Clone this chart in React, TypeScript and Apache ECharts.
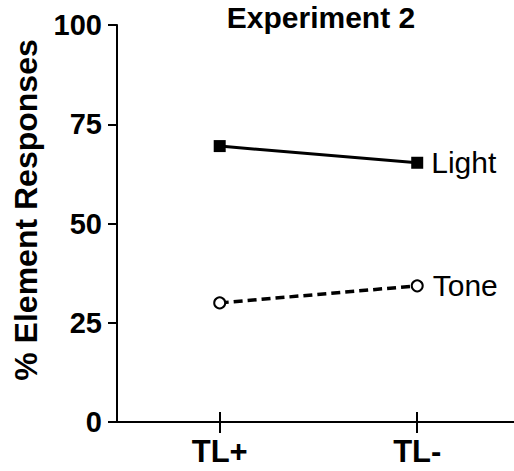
import React, { useEffect, useRef } from "react";
import * as echarts from "echarts";

const categories = ["TL+", "TL-"];
const lightValues = [69.5, 65.3];
const toneValues = [30.0, 34.3];
const yTickValues = [0, 25, 50, 75, 100];
const titleText = "Experiment 2";
const yAxisName = "% Element Responses";
const seriesNames = ["Light", "Tone"];

const FONT = "'Liberation Sans', Arial, Helvetica, sans-serif";

export default function App() {
  const ref = useRef<HTMLDivElement>(null);
  useEffect(() => {
    if (!ref.current) return;
    const chart = echarts.init(ref.current, null, { renderer: "svg" });
    const catIdx = categories.map((_, i) => i);
    const xCommon = {
      type: "value",
      min: -0.52,
      max: 1.49,
      splitLine: { show: false },
      axisLine: { show: false },
    };
    const option = {
      animation: false,
      backgroundColor: "#fff",
      grid: { left: 117, right: 0, top: 25, bottom: 49, containLabel: false },
      graphic: [
        {
          type: "text",
          x: 321,
          y: 17,
          style: {
            text: titleText,
            font: `bold 30px ${FONT}`,
            fill: "#000",
            align: "center",
            verticalAlign: "middle",
          },
        },
        {
          type: "text",
          x: 26,
          y: 210,
          rotation: Math.PI / 2,
          style: {
            text: yAxisName,
            font: `bold 32px ${FONT}`,
            fill: "#000",
            align: "center",
            verticalAlign: "middle",
          },
        },
      ],
      xAxis: [
        {
          ...xCommon,
          position: "bottom",
          axisLine: { show: true, onZero: false, lineStyle: { color: "#000", width: 2 } },
          axisTick: {
            show: true,
            inside: false,
            length: 11,
            customValues: catIdx,
            lineStyle: { color: "#000", width: 2 },
          },
          axisLabel: {
            show: true,
            customValues: catIdx,
            margin: 14,
            formatter: (v: number) => categories[Math.round(v)] ?? "",
            color: "#000",
            fontFamily: FONT,
            fontWeight: "bold",
            fontSize: 31,
          },
        },
        {
          ...xCommon,
          position: "bottom",
          axisTick: {
            show: true,
            inside: true,
            length: 10,
            customValues: catIdx,
            lineStyle: { color: "#000", width: 2 },
          },
          axisLabel: { show: false },
        },
      ],
      yAxis: {
        type: "value",
        min: 0,
        max: 100,
        interval: 25,
        splitLine: { show: false },
        axisLine: { show: true, onZero: false, lineStyle: { color: "#000", width: 2 } },
        axisTick: { show: true, length: 9, lineStyle: { color: "#000", width: 2 } },
        axisLabel: {
          margin: 15,
          color: "#000",
          fontFamily: FONT,
          fontWeight: "bold",
          fontSize: 29,
          formatter: (v: number) => (yTickValues.includes(v) ? String(v) : ""),
        },
      },
      series: [
        {
          name: seriesNames[0],
          type: "line",
          xAxisIndex: 0,
          data: lightValues.map((v, i) => [i, v]),
          symbol: "rect",
          symbolSize: 12,
          itemStyle: { color: "#000" },
          lineStyle: { color: "#000", width: 3 },
          label: {
            show: true,
            position: "right",
            distance: 8,
            color: "#000",
            fontFamily: FONT,
            fontSize: 30,
            formatter: (p: any) => (p.dataIndex === lightValues.length - 1 ? seriesNames[0] : ""),
          },
          z: 3,
        },
        {
          name: seriesNames[1],
          type: "line",
          xAxisIndex: 0,
          data: toneValues.map((v, i) => [i, v]),
          symbol: "circle",
          symbolSize: 11,
          showAllSymbol: true,
          itemStyle: { color: "#fff", borderColor: "#000", borderWidth: 2 },
          lineStyle: { color: "#000", width: 3.5, type: [9, 5] },
          label: {
            show: true,
            position: "right",
            distance: 9,
            color: "#000",
            fontFamily: FONT,
            fontSize: 30,
            formatter: (p: any) => (p.dataIndex === toneValues.length - 1 ? seriesNames[1] : ""),
          },
          z: 3,
        },
      ],
    };
    chart.setOption(option as any);
    return () => chart.dispose();
  }, []);
  return (
    <div
      ref={ref}
      style={{ position: "fixed", left: 0, top: 0, width: 514, height: 471, background: "#fff" }}
    />
  );
}
